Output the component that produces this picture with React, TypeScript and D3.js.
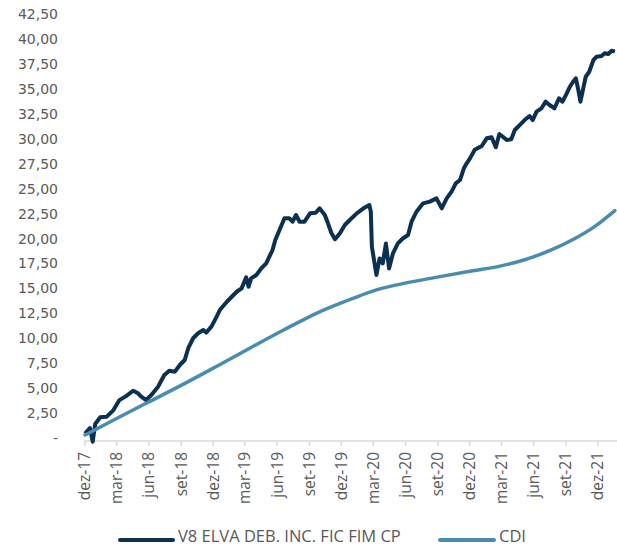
import * as d3 from "d3";

const yTicks = [0, 2.5, 5, 7.5, 10, 12.5, 15, 17.5, 20, 22.5, 25, 27.5, 30, 32.5, 35, 37.5, 40, 42.5];

const tickLabels = [
  "dez-17", "mar-18", "jun-18", "set-18", "dez-18", "mar-19", "jun-19", "set-19", "dez-19",
  "mar-20", "jun-20", "set-20", "dez-20", "mar-21", "jun-21", "set-21", "dez-21",
];
const tickDates = [
  "2017-12-29", "2018-03-29", "2018-06-29", "2018-09-29", "2018-12-29", "2019-03-29",
  "2019-06-29", "2019-09-29", "2019-12-29", "2020-03-29", "2020-06-29", "2020-09-29",
  "2020-12-29", "2021-03-29", "2021-06-29", "2021-09-29", "2021-12-29",
];

const fundName = "V8 ELVA DEB. INC. FIC FIM CP";
const fundDates = [
  "2017-12-29", "2018-01-12", "2018-01-20", "2018-01-27", "2018-02-10", "2018-03-01", "2018-03-20",
  "2018-04-06", "2018-04-25", "2018-05-15", "2018-05-29", "2018-06-07", "2018-06-21", "2018-07-06",
  "2018-07-25", "2018-08-12", "2018-08-26", "2018-09-11", "2018-09-25", "2018-10-09", "2018-10-19",
  "2018-11-02", "2018-11-16", "2018-12-01", "2018-12-09", "2018-12-24", "2019-01-08", "2019-01-17",
  "2019-02-06", "2019-02-20", "2019-03-06", "2019-03-20", "2019-04-02", "2019-04-09", "2019-04-16",
  "2019-05-01", "2019-05-15", "2019-05-29", "2019-06-07", "2019-06-16", "2019-06-24", "2019-07-06",
  "2019-07-20", "2019-08-03", "2019-08-12", "2019-08-22", "2019-09-01", "2019-09-15", "2019-10-01",
  "2019-10-17", "2019-10-28", "2019-11-12", "2019-11-21", "2019-12-01", "2019-12-11", "2019-12-25",
  "2020-01-08", "2020-01-22", "2020-02-11", "2020-03-01", "2020-03-18", "2020-03-22", "2020-03-25",
  "2020-04-07", "2020-04-16", "2020-04-25", "2020-05-04", "2020-05-13", "2020-05-24", "2020-06-07",
  "2020-06-21", "2020-07-06", "2020-07-16", "2020-07-30", "2020-08-18", "2020-09-06", "2020-09-25",
  "2020-10-10", "2020-10-24", "2020-11-07", "2020-11-19", "2020-12-01", "2020-12-12", "2020-12-20",
  "2020-12-29", "2021-01-12", "2021-02-01", "2021-02-15", "2021-03-01", "2021-03-13", "2021-03-23",
  "2021-04-02", "2021-04-13", "2021-04-26", "2021-05-06", "2021-05-20", "2021-06-03", "2021-06-17",
  "2021-06-26", "2021-07-07", "2021-07-21", "2021-08-02", "2021-08-13", "2021-08-27", "2021-09-09",
  "2021-09-19", "2021-10-01", "2021-10-10", "2021-10-19", "2021-10-27", "2021-11-03", "2021-11-09",
  "2021-11-17", "2021-11-24", "2021-12-04", "2021-12-16", "2021-12-25", "2022-01-08", "2022-01-17",
  "2022-01-27", "2022-02-06", "2022-02-15",
];
const fundValues = [
  0.45, 1.0, -0.37, 1.4, 2.07, 2.14, 2.8,
  3.8, 4.2, 4.74, 4.48, 4.14, 3.81, 4.31,
  5.14, 6.31, 6.75, 6.65, 7.32, 7.82, 9.0,
  10.0, 10.5, 10.83, 10.56, 11.16, 12.16, 12.83,
  13.66, 14.16, 14.66, 15.0, 16.1, 15.17, 16.0,
  16.34, 17.0, 17.51, 18.17, 18.84, 19.85, 20.85,
  22.02, 22.02, 21.68, 22.35, 21.68, 21.68, 22.52,
  22.58, 23.02, 22.35, 21.52, 20.52, 19.92, 20.52,
  21.35, 21.85, 22.52, 23.02, 23.35, 22.68, 19.17,
  16.34, 18.0, 17.5, 19.5, 17.0, 18.5, 19.5,
  20.0, 20.35, 21.68, 22.68, 23.52, 23.69, 24.02,
  23.02, 24.02, 24.69, 25.53, 25.86, 27.03, 27.53,
  28.0, 28.9, 29.27, 30.04, 30.14, 29.14, 30.47,
  30.2, 29.87, 29.94, 30.87, 31.37, 31.87, 32.27,
  31.87, 32.71, 33.05, 33.71, 33.38, 33.05, 34.05,
  33.71, 34.55, 35.21, 35.71, 36.05, 34.88, 33.71,
  35.05, 36.21, 36.71, 37.89, 38.22, 38.29, 38.56,
  38.49, 38.82, 38.72,
];

const cdiName = "CDI";
const cdiDates = [
  "2017-12-29", "2018-03-29", "2018-06-21", "2018-09-30", "2019-01-06", "2019-04-12", "2019-07-19",
  "2019-10-25", "2020-01-31", "2020-04-07", "2020-06-24", "2020-10-01", "2021-01-06", "2021-03-25",
  "2021-06-01", "2021-08-18", "2021-10-27", "2021-12-14", "2022-02-15",
];
const cdiValues = [
  0.3, 1.95, 3.48, 5.3, 7.15, 9.0, 10.85,
  12.6, 14.0, 14.85, 15.5, 16.15, 16.76, 17.23,
  17.84, 18.85, 20.05, 21.06, 22.8,
];

const parse = d3.timeParse("%Y-%m-%d");
const fund = fundDates.map((d, i) => ({ date: parse(d) as Date, value: fundValues[i] }));
const cdi = cdiDates.map((d, i) => ({ date: parse(d) as Date, value: cdiValues[i] }));

const WIDTH = 617;
const HEIGHT = 547;
const textColor = "#595959";
const axisColor = "#d9d9d9";
const fundColor = "#0b3051";
const cdiColor = "#4a8cb0";

function fmt(v: number) {
  if (v === 0) return "-";
  return d3.format(".2f")(v).replace(".", ",");
}

export default function App() {
  const x = d3
    .scaleTime()
    .domain([parse(tickDates[0]) as Date, parse(tickDates[tickDates.length - 1]) as Date])
    .range([85, 598]);
  const y = d3.scaleLinear().domain([-0.3, 42.5]).range([441, 14]);

  const line = d3
    .line<{ date: Date; value: number }>()
    .x((d) => x(d.date))
    .y((d) => y(d.value));
  const smooth = d3
    .line<{ date: Date; value: number }>()
    .x((d) => x(d.date))
    .y((d) => y(d.value))
    .curve(d3.curveMonotoneX);

  const axisY = y(-0.3);

  return (
    <div style={{ position: "fixed", left: 0, top: 0 }}>
      <svg width={WIDTH} height={HEIGHT} style={{ display: "block", background: "#fff" }}>
        {/* y labels */}
        <g fontFamily="DejaVu Sans" fontSize={14} fill={textColor}>
          {yTicks.map((t) => (
            <text key={t} x={58} y={y(t)} dy="0.36em" textAnchor="end">
              {fmt(t)}
            </text>
          ))}
        </g>

        {/* x axis */}
        <line x1={84} x2={WIDTH} y1={axisY} y2={axisY} stroke={axisColor} strokeWidth={1.5} />
        {tickDates.map((d, i) => {
          const tx = x(parse(d) as Date);
          return (
            <g key={d}>
              <line x1={tx} x2={tx} y1={axisY} y2={axisY + 5} stroke={axisColor} strokeWidth={1.5} />
              <text
                transform={`translate(${tx},${axisY + 11}) rotate(-90)`}
                dy="0.35em"
                textAnchor="end"
                fontFamily="Open Sans"
                fontSize={15.5}
                fill={textColor}
              >
                {tickLabels[i]}
              </text>
            </g>
          );
        })}

        {/* series */}
        <path d={line(fund) || undefined} fill="none" stroke={fundColor} strokeWidth={4} strokeLinejoin="round" />
        <path d={smooth(cdi) || undefined} fill="none" stroke={cdiColor} strokeWidth={3.5} strokeLinecap="round" />

        {/* legend */}
        <g fontFamily="Open Sans" fontSize={16.5} fill={textColor}>
          <line x1={120} x2={173} y1={540} y2={540} stroke={fundColor} strokeWidth={4} strokeLinecap="round" />
          <text x={178} y={542}>{fundName}</text>
          <line x1={440} x2={494} y1={540} y2={540} stroke={cdiColor} strokeWidth={4} strokeLinecap="round" />
          <text x={499} y={542}>{cdiName}</text>
        </g>
      </svg>
    </div>
  );
}
